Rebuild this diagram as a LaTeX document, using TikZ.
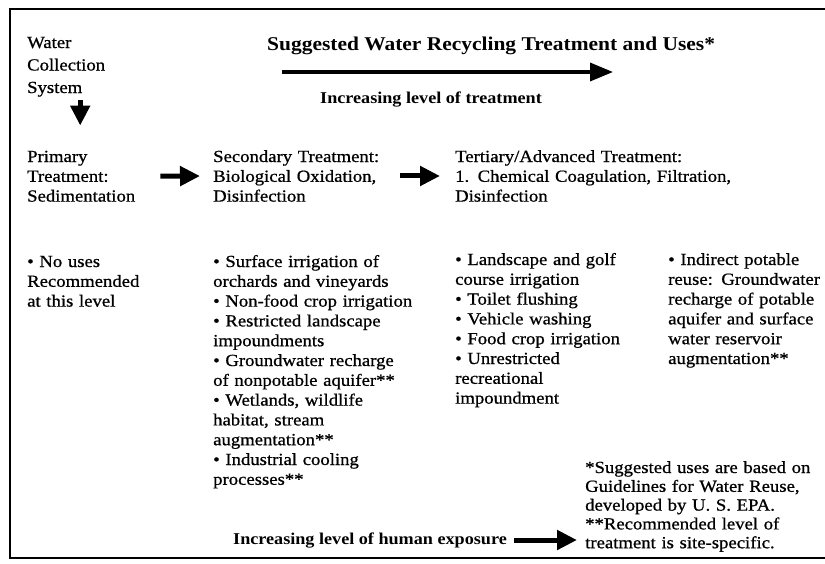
\documentclass[tikz,border=0pt]{standalone}
\usepackage{fontspec}
\setmainfont{Liberation Serif}[FakeStretch=1.1,UprightFeatures={FakeBold=0.8}]
\usetikzlibrary{arrows.meta,positioning}
\begin{document}
\begin{tikzpicture}[x=1pt,y=-1pt,every node/.style={inner sep=0pt,anchor=base west,align=left,font=\fontsize{17}{19.8}\selectfont},ttl/.style={font=\fontsize{19.5}{22}\selectfont\bfseries},lbl/.style={font=\fontsize{16.5}{19}\selectfont\bfseries},fat/.style={-{Triangle[length=20pt,width=19pt]},line width=5pt},hdarrow/.style={-{Triangle[length=23pt,width=18pt]},line width=3.5pt}]
\useasboundingbox (0,0) rectangle (825,563);
\draw[line width=2.5pt] (825,9)--(10,9)--(10,558)--(825,558);
% heading
\node[ttl] (title) at (267,50) {Suggested Water Recycling Treatment and Uses*};
\coordinate (tl) at (282,72);\coordinate (tr) at (613,72);\draw[hdarrow] (tl)--(tr);
\node[lbl] (trt) at (320,103) {Increasing level of treatment};
% treatment steps
\node[text width=106pt,font=\fontsize{17}{22.5}\selectfont] (water) at (27,48) {Water\\Collection\\System};
\node[text width=110pt] (prim) at (27,162) {Primary\\Treatment:\\Sedimentation};
\node[text width=172pt] (sec) at (213,162) {Secondary Treatment:\\Biological Oxidation,\\Disinfection};
\node[text width=300pt] (tert) at (455,162) {Tertiary/Advanced Treatment:\\1. Chemical Coagulation, Filtration,\\Disinfection};
\draw[fat,shorten <=3pt,shorten >=25pt] (water.south)--(water.south |- prim.north);
\draw[fat,shorten <=23pt,shorten >=13pt] (prim.east)--(sec.west);
\draw[fat,shorten <=15pt,shorten >=15pt] (sec.east)--(tert.west);
% uses
\node[text width=150pt] (use1) at (27,267) {• No uses\\Recommended\\at this level};
\node[text width=230pt] (use2) at (213,267) {• Surface irrigation of\\orchards and vineyards\\• Non-food crop irrigation\\• Restricted landscape\\impoundments\\• Groundwater recharge\\of nonpotable aquifer**\\• Wetlands, wildlife\\habitat, stream\\augmentation**\\• Industrial cooling\\processes**};
\node[text width=200pt] (use3) at (455,265) {• Landscape and golf\\course irrigation\\• Toilet flushing\\• Vehicle washing\\• Food crop irrigation\\• Unrestricted\\recreational\\impoundment};
\node[text width=170pt] (use4) at (668,265) {• Indirect potable\\reuse: Groundwater\\recharge of potable\\aquifer and surface\\water reservoir\\augmentation**};
% notes
\node[text width=250pt,font=\fontsize{17}{18.8}\selectfont] (foot) at (585,473) {*Suggested uses are based on\\Guidelines for Water Reuse,\\developed by U. S. EPA.\\{}**Recommended level of\\treatment is site-specific.};
\node[lbl] (hum) at (233,544) {Increasing level of human exposure};
\draw[fat,shorten <=7pt,shorten >=8pt] (hum.east)--(foot.west |- hum.east);
\end{tikzpicture}
\end{document}
